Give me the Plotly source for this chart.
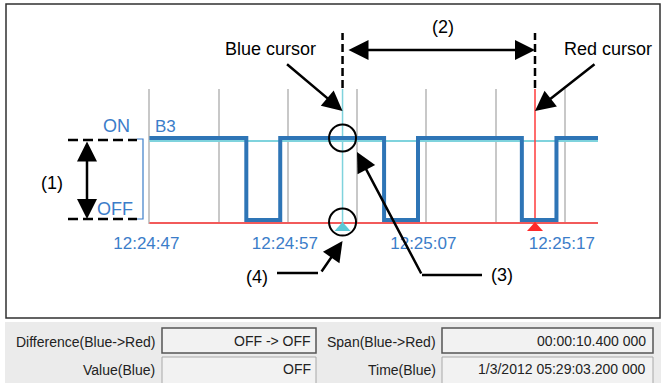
import plotly.graph_objects as go

day = "2012-01-03 "

# B3 signal (step trace), 1 = ON, 0 = OFF
sig_times = ["12:24:47", "12:24:54", "12:24:56.45", "12:25:03.95",
             "12:25:06.4", "12:25:13.9", "12:25:16.4", "12:25:19.4"]
sig_values = [1, 0, 1, 0, 1, 0, 1, 1]

tick_times = ["12:24:47", "12:24:57", "12:25:07", "12:25:17"]
tick_labels = ["12:24:47", "12:24:57", "12:25:07", "12:25:17"]
minor_times = ["12:24:52", "12:25:02", "12:25:12"]

blue_cursor = "12:25:00.95"
red_cursor = "12:25:14.85"

panel_labels = ["Difference(Blue->Red)", "Value(Blue)", "Span(Blue->Red)", "Time(Blue)"]
panel_values = ["OFF -> OFF", "OFF", "00:00:10.400 000", "1/3/2012 05:29:03.200 000"]

BLUE = "#2e75b6"
TXT_BLUE = "#3b7dc9"
CYAN = "#7fd3dd"
RED = "#f25a5a"
GRID = "#c8c8c8"
FONT = "Liberation Sans, Arial, sans-serif"

# plot area in pixels
L, T, W, H = 148, 89, 450, 135


def px(x):
    return (x - L) / W


def py(y):
    return (T + H - y) / H


t = [day + s for s in sig_times]
start, end = t[0], t[-1]
bc = day + blue_cursor
rc = day + red_cursor

fig = go.Figure()

# value lines of the cursors
fig.add_trace(go.Scatter(x=[start, end], y=[-0.037, -0.037], mode="lines",
                         line=dict(color=RED, width=2), hoverinfo="skip"))
fig.add_trace(go.Scatter(x=[start, end], y=[0.963, 0.963], mode="lines",
                         line=dict(color=CYAN, width=2), hoverinfo="skip"))

# cursor lines
fig.add_trace(go.Scatter(x=[bc, bc], y=[-0.04, 1.6], mode="lines",
                         line=dict(color=CYAN, width=1.5), hoverinfo="skip"))
fig.add_trace(go.Scatter(x=[rc, rc], y=[-0.04, 1.6], mode="lines",
                         line=dict(color="#ff3b3b", width=1.5), hoverinfo="skip"))

# signal
fig.add_trace(go.Scatter(x=t, y=sig_values, mode="lines", line_shape="hv",
                         line=dict(color=BLUE, width=4), name="B3"))

# highlight circles at blue cursor
fig.add_trace(go.Scatter(x=[bc, bc], y=[1.0, -0.025], mode="markers", cliponaxis=False,
                         marker=dict(symbol="circle-open", size=27, color="black",
                                     line=dict(color="black", width=2))))

shapes = []
# outer frame
shapes.append(dict(type="rect", xref="paper", yref="paper",
                   x0=px(6), x1=px(660), y0=py(318), y1=py(4),
                   line=dict(color="#303030", width=1.5)))
# bottom panel
shapes.append(dict(type="rect", xref="paper", yref="paper",
                   x0=px(5), x1=px(662), y0=py(384), y1=py(322),
                   line=dict(width=0), fillcolor="#ebebeb"))
for (x0, x1) in [(162, 316), (442, 653)]:
    shapes.append(dict(type="rect", xref="paper", yref="paper",
                       x0=px(x0), x1=px(x1), y0=py(353), y1=py(328),
                       line=dict(color="#555555", width=1.5), fillcolor="#f2f2f2"))
    shapes.append(dict(type="rect", xref="paper", yref="paper",
                       x0=px(x0), x1=px(x1), y0=py(384), y1=py(357),
                       line=dict(color="#a8a8a8", width=1), fillcolor="#f2f2f2"))

# cursor triangles under the baseline
for c, col in [(bc, "#5cc8d6"), (rc, "#ff2a2a")]:
    shapes.append(dict(type="path", xref="x", yref="paper",
                       xsizemode="pixel", xanchor=c,
                       ysizemode="pixel", yanchor=py(231),
                       path="M-8,0 L8,0 L0,9 Z",
                       fillcolor=col, line=dict(width=0)))

# dashed extensions of cursors
for c in [bc, rc]:
    shapes.append(dict(type="line", xref="x", yref="paper",
                       x0=c, x1=c, y0=py(88), y1=py(33),
                       line=dict(color="black", width=2.5, dash="8px,4px")))
# (1) dashed level markers
for yy in [140, 219]:
    shapes.append(dict(type="line", xref="paper", yref="paper",
                       x0=px(68), x1=px(137), y0=py(yy), y1=py(yy),
                       line=dict(color="black", width=2.5, dash="10px,5px")))
# blue bracket
shapes.append(dict(type="path", xref="paper", yref="paper",
                   path=f"M{px(137)},{py(139)} L{px(143)},{py(139)} L{px(143)},{py(219)} L{px(137)},{py(219)}",
                   line=dict(color=TXT_BLUE, width=1.2)))
# leader lines for (3) and (4)
shapes.append(dict(type="line", xref="paper", yref="paper",
                   x0=px(277), x1=px(318), y0=py(273), y1=py(273),
                   line=dict(color="black", width=2.5)))
shapes.append(dict(type="line", xref="paper", yref="paper",
                   x0=px(422), x1=px(482), y0=py(275), y1=py(275),
                   line=dict(color="black", width=2.5)))

ann = []


def label(text, x, y, size=18, color="black", xanchor="center"):
    ann.append(dict(text=text, x=px(x), y=py(y), xref="paper", yref="paper",
                    showarrow=False, xanchor=xanchor, yanchor="middle",
                    font=dict(family=FONT, size=size, color=color)))


def arrow(x, y, ax, ay, xref="paper", side="end"):
    ann.append(dict(text="", x=x, y=py(y), xref=xref, yref="paper",
                    ax=ax, ay=ay, showarrow=True, arrowhead=2, arrowsize=1.6,
                    arrowwidth=2.5, arrowcolor="black", arrowside=side,
                    startarrowhead=2, startarrowsize=1.6))


label("Blue cursor", 270, 49)
label("Red cursor", 608, 49)
label("(2)", 443, 27)
label("(1)", 52, 183)
label("(3)", 502, 275)
label("(4)", 257, 277)
label("ON", 132, 126, size=18, color=TXT_BLUE, xanchor="right")
label("OFF", 135, 209, size=18, color=TXT_BLUE, xanchor="right")
label("B3", 153, 126, size=17, color=TXT_BLUE, xanchor="left")

arrow(bc, 111, -57, -48, xref="x")
arrow(rc, 111, 61, -48, xref="x")
arrow(rc, 50, -188, 0, xref="x", side="end+start")
arrow(px(87), 219, 0, -79, side="end+start")
arrow(bc, 241, -22, 32, xref="x")
arrow(px(357), 152, 65, 123)

for i, (lab, val) in enumerate(zip(panel_labels, panel_values)):
    col = i // 2
    row = i % 2
    yy = 342 if row == 0 else 370
    label(lab, [157, 438][col], yy, size=14, color="#222222", xanchor="right")
    label(val, [313, 648][col], yy - 1, size=14, color="#222222", xanchor="right")

fig.update_layout(
    width=661,
    height=383,
    autosize=False,
    margin=dict(l=L, r=661 - L - W, t=T, b=383 - T - H, pad=0),
    paper_bgcolor="white",
    plot_bgcolor="white",
    showlegend=False,
    shapes=shapes,
    annotations=ann,
    xaxis=dict(
        type="date",
        range=[day + "12:24:46.9", end],
        tickvals=[day + s for s in tick_times],
        ticktext=tick_labels,
        showgrid=True, gridcolor=GRID, gridwidth=2,
        minor=dict(tickvals=[day + s for s in minor_times], showgrid=True,
                   gridcolor=GRID, gridwidth=2),
        zeroline=False, showline=False,
        ticks="outside", ticklen=4, tickcolor="rgba(0,0,0,0)",
        ticklabelshift=-3,
        tickfont=dict(family=FONT, size=17, color=TXT_BLUE),
        fixedrange=True,
    ),
    yaxis=dict(range=[-0.0488, 1.5976], visible=False, fixedrange=True),
)

fig.write_html("out.html", config={"displayModeBar": False},
               post_script="document.body.style.margin='0px';document.body.style.overflow='hidden';")
